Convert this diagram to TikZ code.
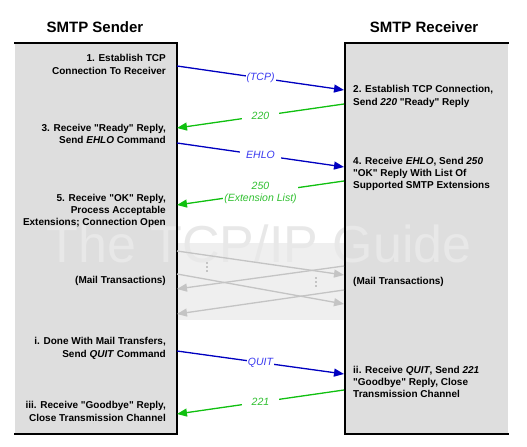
\documentclass[tikz,border=0pt]{standalone}
\usepackage{fontspec}
\setmainfont{Liberation Sans}
\usetikzlibrary{arrows.meta}
\definecolor{boxgray}{HTML}{DEDEDE}
\definecolor{bandgray}{HTML}{EFEFEF}
\definecolor{cmdblue}{HTML}{0000C0}
\definecolor{cmdlabel}{HTML}{3A3AF0}
\definecolor{replygreen}{HTML}{10C010}
\definecolor{replylabel}{HTML}{30C030}
\definecolor{txgray}{HTML}{C4C4C4}
\definecolor{markgray}{HTML}{E8E8E8}
% straight double quotes
\newcommand\dq[1]{\textquotedbl#1\textquotedbl}
\begin{document}
\begin{tikzpicture}[x=1bp,y=-1bp,
  steptext/.style={inner sep=0pt, font=\fontsize{10bp}{12.3bp}\selectfont\bfseries},
  lefttext/.style={steptext, anchor=east, align=right},
  righttext/.style={steptext, anchor=west, align=left},
  title/.style={inner sep=0pt, font=\fontsize{15bp}{18bp}\selectfont\bfseries},
  edge/.style={line width=2bp, line cap=rect},
  tip/.style={-{Triangle[length=10bp,width=8bp]}},
  cmd/.style={tip, draw=cmdblue, fill=cmdblue, line width=1.3bp},
  reply/.style={tip, draw=replygreen, fill=replygreen, line width=1.3bp},
  mail/.style={tip, draw=txgray, fill=txgray, line width=1.3bp},
  cmdlbl/.style={fill=white, text=cmdlabel, inner sep=1bp, font=\fontsize{10.5bp}{12bp}\selectfont\itshape},
  replylbl/.style={fill=white, text=replylabel, inner sep=1bp, align=center, font=\fontsize{10.5bp}{12bp}\selectfont\itshape},
  dots/.style={draw=txgray, line width=1.5bp, dash pattern=on 1.5bp off 2.5bp},
]
\useasboundingbox (0,0) rectangle (527,447);

% shaded region for the mail transactions
\fill[bandgray] (177,243) rectangle (344,320);

% the two participants
\fill[boxgray] (15,43) rectangle (177,434);
\fill[boxgray] (345,43) rectangle (508,434);

% watermark
\node[anchor=base, inner sep=0pt, text=markgray, font=\fontsize{52bp}{56bp}\selectfont] (mark) at (259,263) {The TCP/IP Guide};

\draw[edge] (15,43) -- (177,43) -- (177,434) -- (15,434);
\draw[edge] (508,43) -- (345,43) -- (345,434) -- (508,434);

\node[title] (sender) at (95,27) {SMTP Sender};
\node[title] (receiver) at (424,27) {SMTP Receiver};

% end points on the facing edges of the two boxes
\coordinate (s1) at (177,66);   \coordinate (r1) at (344,90);
\coordinate (r2) at (344,104);  \coordinate (s2) at (177,128);
\coordinate (s3) at (177,143);  \coordinate (r3) at (344,167);
\coordinate (r4) at (344,181);  \coordinate (s4) at (177,205);
\coordinate (m1a) at (177,251); \coordinate (m1b) at (344,275);
\coordinate (m2a) at (344,266); \coordinate (m2b) at (177,289);
\coordinate (m3a) at (177,274); \coordinate (m3b) at (344,304);
\coordinate (m4a) at (344,290); \coordinate (m4b) at (177,314);
\coordinate (s5) at (177,351);  \coordinate (r5) at (344,374);
\coordinate (r6) at (344,390);  \coordinate (s6) at (177,414);

% mail transaction exchanges
\draw[mail] (m1a) -- (m1b);
\draw[mail] (m2a) -- (m2b);
\draw[mail] (m3a) -- (m3b);
\draw[mail] (m4a) -- (m4b);
\coordinate (d1a) at (207,262); \coordinate (d1b) at (207,274);
\coordinate (d2a) at (316,277); \coordinate (d2b) at (316,289);
\draw[dots] (d1a) -- (d1b);
\draw[dots] (d2a) -- (d2b);

% commands and replies
\draw[cmd] (s1) -- node[cmdlbl] (tcp) {(TCP)} (r1);
\draw[reply] (r2) -- node[replylbl, inner xsep=10bp] (c220) {220} (s2);
\draw[cmd] (s3) -- node[cmdlbl, inner xsep=6bp] (ehlo) {EHLO} (r3);
\draw[reply] (r4) -- node[replylbl] (c250) {250\\(Extension List)} (s4);
\draw[cmd] (s5) -- node[cmdlbl] (quit) {QUIT} (r5);
\draw[reply] (r6) -- node[replylbl, inner xsep=10bp] (c221) {221} (s6);

% sender steps
\node[lefttext] (t1) at (166,64.5) {1. Establish TCP\\Connection To Receiver};
\node[lefttext] (t3) at (166,134) {3. Receive \dq{Ready} Reply,\\Send \textit{EHLO} Command};
\node[lefttext] (t5) at (166,211) {5. Receive \dq{OK} Reply,\\Process Acceptable\\Extensions; Connection Open};
\node[lefttext] (tm) at (166,281) {(Mail Transactions)};
\node[lefttext] (ti) at (166,348.5) {i. Done With Mail Transfers,\\Send \textit{QUIT} Command};
\node[lefttext] (tiii) at (166,411.5) {iii. Receive \dq{Goodbye} Reply,\\Close Transmission Channel};

% receiver steps
\node[righttext] (t2) at (353,96.5) {2. Establish TCP Connection,\\Send \textit{220} \dq{Ready} Reply};
\node[righttext] (t4) at (353,174) {4. Receive \textit{EHLO}, Send \textit{250}\\\dq{OK} Reply With List Of\\Supported SMTP Extensions};
\node[righttext] (rm) at (353,282) {(Mail Transactions)};
\node[righttext] (tii) at (353,382) {ii. Receive \textit{QUIT}, Send \textit{221}\\\dq{Goodbye} Reply, Close\\Transmission Channel};
\end{tikzpicture}
\end{document}
